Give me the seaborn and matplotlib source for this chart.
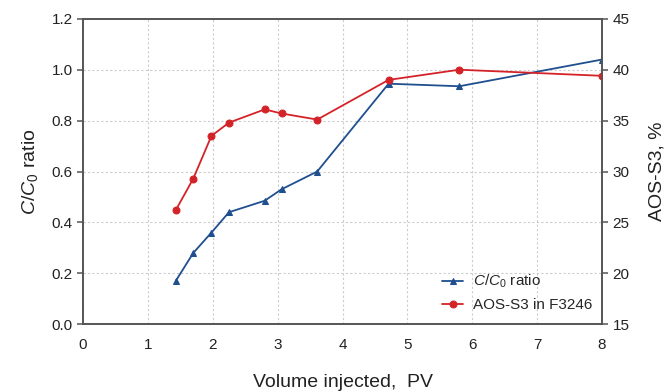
"""
C/C0 ratio and AOS-S3 content versus injected pore volume
"""
import numpy as np
import pandas as pd
import matplotlib
matplotlib.use("Agg")
import matplotlib.pyplot as plt
import seaborn as sns

sns.set_style("white")
plt.rcParams['font.family'] = ['Liberation Sans', 'DejaVu Sans']
plt.rcParams['mathtext.fontset'] = 'custom'
plt.rcParams['mathtext.rm'] = 'Liberation Sans'
plt.rcParams['mathtext.it'] = 'Liberation Sans:italic'

# Data
pv = [1.43, 1.70, 1.98, 2.25, 2.80, 3.06, 3.61, 4.71, 5.80, 8.00]
c_ratio = [0.17, 0.28, 0.36, 0.44, 0.485, 0.53, 0.60, 0.945, 0.935, 1.04]
aos_s3 = [26.2, 29.3, 33.5, 34.8, 36.1, 35.7, 35.1, 39.0, 40.0, 39.4]

df = pd.DataFrame({'pv': pv, 'ratio': c_ratio, 'aos': aos_s3})

blue = '#1f4f8f'
red = '#d42328'
spine_col = '#555555'

fig = plt.figure(figsize=(6.69, 3.92), dpi=100)
ax = fig.add_axes([0.124, 0.173, 0.776, 0.779])
ax2 = ax.twinx()

sns.lineplot(data=df, x='pv', y='ratio', ax=ax, color=blue, marker='^',
             markersize=5, markeredgecolor=blue, linewidth=1.3,
             label=r'$\it{C}$/$\it{C}$$_0$ ratio', legend=False)
sns.lineplot(data=df, x='pv', y='aos', ax=ax2, color=red, marker='o',
             markersize=5, markeredgecolor=red, linewidth=1.3,
             label='AOS-S3 in F3246', legend=False)

ax.set_xlim(0, 8)
ax.set_ylim(0, 1.2)
ax2.set_ylim(15, 45)
ax.set_xticks(range(0, 9))
ax.set_yticks(np.arange(0, 1.21, 0.2))
ax.set_yticklabels([f'{v:.1f}' for v in np.arange(0, 1.21, 0.2)])
ax2.set_yticks(range(15, 46, 5))

ax.grid(True, color='#cccccc', linestyle=(0, (2, 2)), linewidth=0.8)
ax.set_axisbelow(True)

for a in (ax, ax2):
    for s in a.spines.values():
        s.set_color(spine_col)
        s.set_linewidth(1.2)
    a.tick_params(direction='out', length=4, width=1.1, color=spine_col,
                  labelsize=11, labelcolor='#222222')
ax.tick_params(axis='x', pad=6)

ax.set_xlabel('Volume injected,  PV', fontsize=14, labelpad=16, color='#222222')
ax.set_ylabel(r'$\it{C}$/$\it{C}$$_0$ ratio', fontsize=14, labelpad=8, color='#222222')
ax2.set_ylabel('AOS-S3, %', fontsize=14, labelpad=14, color='#222222')

h1, l1 = ax.get_legend_handles_labels()
h2, l2 = ax2.get_legend_handles_labels()
ax2.legend(h1 + h2, l1 + l2, loc='lower right', bbox_to_anchor=(1.01, -0.01),
           frameon=False, fontsize=11, handlelength=1.4, handletextpad=0.6,
           borderaxespad=0.6, labelspacing=0.5)

plt.savefig('out.png', dpi=100)
